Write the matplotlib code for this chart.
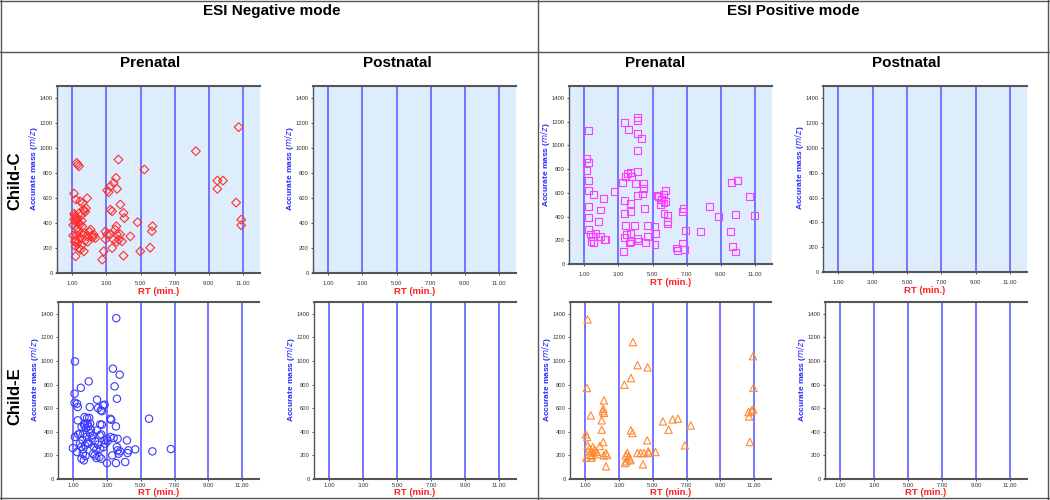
from matplotlib import pyplot as plt
from matplotlib.lines import Line2D
import numpy as np

plt.rcParams['font.family'] = ['Liberation Sans', 'DejaVu Sans']

# ESI negative, prenatal, Child-C  (RT min, m/z)
neg_c_rt = [1.10, 1.25, 1.32, 1.39, 1.20, 1.45, 1.60, 1.87, 1.80, 1.70, 1.75, 1.65, 1.10, 1.15,
            1.20, 1.25, 1.30, 1.10, 1.20, 1.35, 1.05, 1.40, 1.50, 1.55, 1.45, 1.58, 1.30, 2.07,
            2.26, 1.87, 2.36, 1.48, 1.19, 1.60, 1.70, 2.00, 2.15, 1.35, 1.25, 1.15, 1.19, 1.29,
            1.48, 1.68, 1.19, 1.55, 1.75, 1.40, 1.90, 2.20, 1.05, 1.50,
            2.75, 2.84, 2.94, 2.94, 3.04, 3.04, 3.13, 3.23, 3.42, 3.56, 3.62, 3.70, 3.81, 3.23,
            3.33, 4.00, 4.05, 4.82, 3.52, 3.62, 3.72, 3.91, 3.42, 3.33, 4.40, 4.00, 4.98, 5.56,
            5.22, 5.70, 5.66, 3.58, 3.80, 3.60, 3.20,
            8.24, 9.50, 9.83, 9.50, 10.60, 10.75, 10.90, 10.90]
neg_c_mz = [637, 883, 870, 856, 590, 575, 560, 600, 520, 500, 490, 510, 475, 460,
            450, 440, 430, 430, 410, 400, 385, 480, 460, 420, 390, 374, 360, 348,
            308, 294, 281, 281, 267, 310, 320, 330, 300, 330, 300, 250, 214, 240,
            187, 174, 134, 225, 260, 200, 250, 285, 300, 320,
            107, 174, 334, 270, 308, 663, 648, 696, 723, 763, 675, 910, 549, 508,
            495, 482, 440, 407, 348, 308, 267, 254, 267, 200, 294, 139, 174, 203,
            830, 375, 335, 375, 310, 250, 310,
            977, 741, 741, 675, 565, 1170, 428, 383]

# ESI positive, prenatal, Child-C
pos_c_rt = [1.25, 1.14, 1.23, 1.10, 1.23, 1.23, 1.53, 2.11, 2.75, 1.25, 1.23, 1.93, 1.84, 1.23,
            1.35, 1.49, 1.39, 1.54, 1.64, 1.97, 2.26, 2.20,
            3.33, 3.59, 4.11, 4.11, 4.11, 4.37, 4.11, 4.11, 3.40, 3.55, 3.70, 3.75, 3.24, 4.02,
            4.46, 4.46, 4.40, 4.11, 3.37, 3.72, 3.37, 3.68, 4.50, 3.43, 3.92, 4.70, 3.72, 3.49,
            3.33, 3.30, 3.63, 3.72, 4.11, 4.15, 4.70, 4.60, 5.12, 5.18, 5.14,
            5.31, 5.37, 5.47, 5.53, 5.63, 5.73, 5.67, 5.76, 5.67, 5.86, 5.86, 5.86,
            6.39, 6.45, 6.80, 6.78, 6.78, 6.88, 6.93, 7.81, 8.33, 8.86, 9.56, 9.62, 9.95, 9.98,
            9.70, 9.85, 9.85, 10.67, 11.00]
pos_c_mz = [1125, 886, 857, 790, 706, 619, 582, 551, 607, 486, 391, 455, 360, 290,
            253, 233, 191, 177, 261, 233, 205, 210,
            1195, 1130, 1231, 1212, 1096, 1054, 959, 776, 740, 760, 770, 740, 683, 678,
            675, 640, 590, 576, 534, 512, 422, 441, 467, 323, 323, 323, 256, 247,
            222, 107, 177, 186, 214, 194, 233, 183, 318, 256, 163,
            576, 565, 500, 543, 590, 621, 514, 528, 422, 413, 360, 337,
            135, 115, 467, 444, 177, 121, 284, 276, 486, 402, 276, 683, 703, 700,
            149, 101, 419, 565, 405]

# ESI negative, prenatal, Child-E
neg_e_rt = [3.55, 1.10, 3.35, 3.75, 3.45, 1.92, 1.45, 1.08, 1.08, 1.23, 1.27, 3.59, 2.41, 1.98,
            2.47, 2.76, 2.86, 2.63, 2.70, 1.27, 1.67, 1.82, 1.95, 3.20, 3.25, 5.49, 1.70, 1.85,
            2.00, 2.60, 2.70, 3.53, 1.10, 1.30, 1.40, 1.60, 1.80, 2.00, 2.15, 2.57, 2.66, 2.41,
            2.86, 3.00, 3.20, 3.39, 3.63, 4.18, 1.47, 1.59, 1.92, 2.22, 2.37, 2.47, 2.60, 2.80,
            3.59, 3.63, 3.04, 0.98, 1.23, 1.57, 1.73, 1.49, 1.63, 2.18, 2.27, 2.37, 2.55, 2.67,
            3.00, 3.31, 3.78, 3.69, 3.53, 4.08, 4.22, 4.27, 4.67, 5.69, 6.78,
            1.50, 1.65, 1.75, 1.90, 2.05, 1.55, 1.85, 2.10, 1.40, 1.70, 2.30, 2.90]
neg_e_mz = [1363, 996, 935, 884, 785, 827, 773, 723, 646, 638, 610, 680, 672, 610,
            601, 624, 630, 581, 575, 497, 525, 516, 518, 511, 502, 511, 468, 468,
            470, 463, 460, 446, 356, 378, 384, 384, 356, 389, 370, 370, 378, 412,
            327, 341, 356, 347, 341, 327, 271, 254, 299, 271, 248, 291, 257, 271,
            271, 243, 322, 262, 228, 214, 195, 172, 158, 214, 200, 178, 186, 172,
            135, 200, 234, 214, 135, 144, 220, 243, 251, 234, 254,
            440, 455, 430, 445, 420, 330, 310, 345, 300, 285, 320, 300]

# ESI positive, prenatal, Child-E
pos_e_rt = [1.14, 3.83, 4.10, 4.69, 3.71, 3.32, 1.10, 10.94, 10.96, 2.11, 2.07, 2.05, 2.12, 1.33,
            1.98, 1.98, 2.07, 1.04, 1.12, 1.15, 1.25, 1.35, 1.45, 1.55, 1.65, 1.75, 1.86, 1.30,
            1.40, 1.50, 1.06, 1.35, 2.23, 2.29, 2.10, 2.23, 3.70, 3.80, 3.50, 3.40, 3.56, 3.62,
            3.68, 3.45, 3.35, 4.09, 4.28, 4.48, 4.67, 4.73, 4.77, 5.16, 4.42, 5.60, 6.18, 6.49,
            5.94, 7.25, 6.90, 10.67, 10.85, 10.95, 10.70, 10.75]
pos_e_mz = [1352, 1160, 965, 946, 855, 799, 771, 1041, 773, 666, 595, 575, 560, 539,
            497, 418, 313, 378, 356, 285, 260, 240, 270, 250, 230, 210, 280, 205,
            195, 225, 180, 180, 220, 203, 200, 107, 412, 390, 220, 200, 192, 175,
            160, 150, 135, 220, 220, 220, 327, 234, 220, 229, 124, 488, 505, 511,
            418, 454, 285, 567, 580, 590, 530, 313]

rt_ticks = [1, 3, 5, 7, 9, 11]
mz_ticks = [0, 200, 400, 600, 800, 1000, 1200, 1400]

W, H = 1050, 500
fig = plt.figure(figsize=(W / 100, H / 100), dpi=100)


def px_axes(x0, y0, x1, y1):
    return fig.add_axes([x0 / W, 1 - y1 / H, (x1 - x0) / W, (y1 - y0) / H])


def style(ax, bg, xpad, lpad):
    ax.set_facecolor(bg)
    ax.set_xlim(0.1, 12)
    ax.set_ylim(0, 1500)
    for x in rt_ticks:
        ax.axvline(x, color='#6b6bff', lw=1.3, zorder=1)
    ax.set_xticks(rt_ticks)
    ax.set_xticklabels(['%.2f' % v for v in rt_ticks])
    ax.set_yticks(mz_ticks)
    ax.tick_params(labelsize=4.2, length=1.5, width=0.6, colors='#333333', pad=1.5)
    ax.tick_params(axis='x', pad=xpad)
    ax.spines['right'].set_visible(False)
    ax.spines['top'].set_color('#555555')
    ax.spines['top'].set_linewidth(1.5)
    ax.spines['bottom'].set_color('#555555')
    ax.spines['bottom'].set_linewidth(1.5)
    ax.spines['left'].set_color('#555555')
    ax.spines['left'].set_linewidth(1.0)
    ax.set_xlabel('RT (min.)', color='#ff2020', fontsize=6.8, fontweight='bold', labelpad=lpad)
    ax.set_ylabel('Accurate mass ($\\bf{\\it{m/z}}$)', color='#2a2aff', fontsize=6,
                  fontweight='bold')
    ax.yaxis.set_label_coords(-0.085, 0.56)


light = '#ddedfc'
panels = [
    ((57, 86, 260, 273), light, neg_c_rt, neg_c_mz, 'D', '#ff3030', 20),
    ((313, 86, 516, 273), light, None, None, None, None, 0),
    ((569, 86, 772, 264), light, pos_c_rt, pos_c_mz, 's', '#ff3cff', 25),
    ((823, 86, 1027, 272), light, None, None, None, None, 0),
    ((58, 302, 259, 479), 'white', neg_e_rt, neg_e_mz, 'o', '#3a3aff', 28),
    ((314, 302, 516, 479), 'white', None, None, None, None, 0),
    ((570, 302, 771, 479), 'white', pos_e_rt, pos_e_mz, '^', '#ff8a35', 28),
    ((825, 302, 1027, 479), 'white', None, None, None, None, 0),
]

for i, (box, bg, xs, ys, mk, col, sz) in enumerate(panels):
    ax = px_axes(*box)
    if i < 4:
        style(ax, bg, 4, 1)
    else:
        style(ax, bg, 1.5, 0)
    if xs is not None:
        ax.scatter(xs, ys, marker=mk, s=sz, facecolors='none', edgecolors=col,
                   linewidths=0.8, zorder=3)

# outer frame
frame = dict(color='#555555', lw=1.0, transform=fig.transFigure)
fig.add_artist(Line2D([1 / W, 1 / W], [0, 1], **frame))
fig.add_artist(Line2D([1048 / W, 1048 / W], [0, 1], **frame))
fig.add_artist(Line2D([538 / W, 538 / W], [0, 1], **frame))
fig.add_artist(Line2D([0, 1], [1 - 1 / H, 1 - 1 / H], **frame))
fig.add_artist(Line2D([0, 1], [1 - 52 / H, 1 - 52 / H], **frame))
fig.add_artist(Line2D([0, 1], [1 - 498 / H, 1 - 498 / H], **frame))

fig.text(272 / W, 1 - 11 / H, 'ESI Negative mode', ha='center', va='center', fontsize=11, fontweight='bold')
fig.text(793 / W, 1 - 11 / H, 'ESI Positive mode', ha='center', va='center', fontsize=11, fontweight='bold')
for x, t in [(150, 'Prenatal'), (397, 'Postnatal'), (655, 'Prenatal'), (906, 'Postnatal')]:
    fig.text(x / W, 1 - 63 / H, t, ha='center', va='center', fontsize=11, fontweight='bold')
fig.text(15 / W, 1 - 181 / H, 'Child-C', ha='center', va='center', rotation=90, fontsize=12, fontweight='bold')
fig.text(15 / W, 1 - 396 / H, 'Child-E', ha='center', va='center', rotation=90, fontsize=12, fontweight='bold')

fig.savefig('out.png', dpi=100)
